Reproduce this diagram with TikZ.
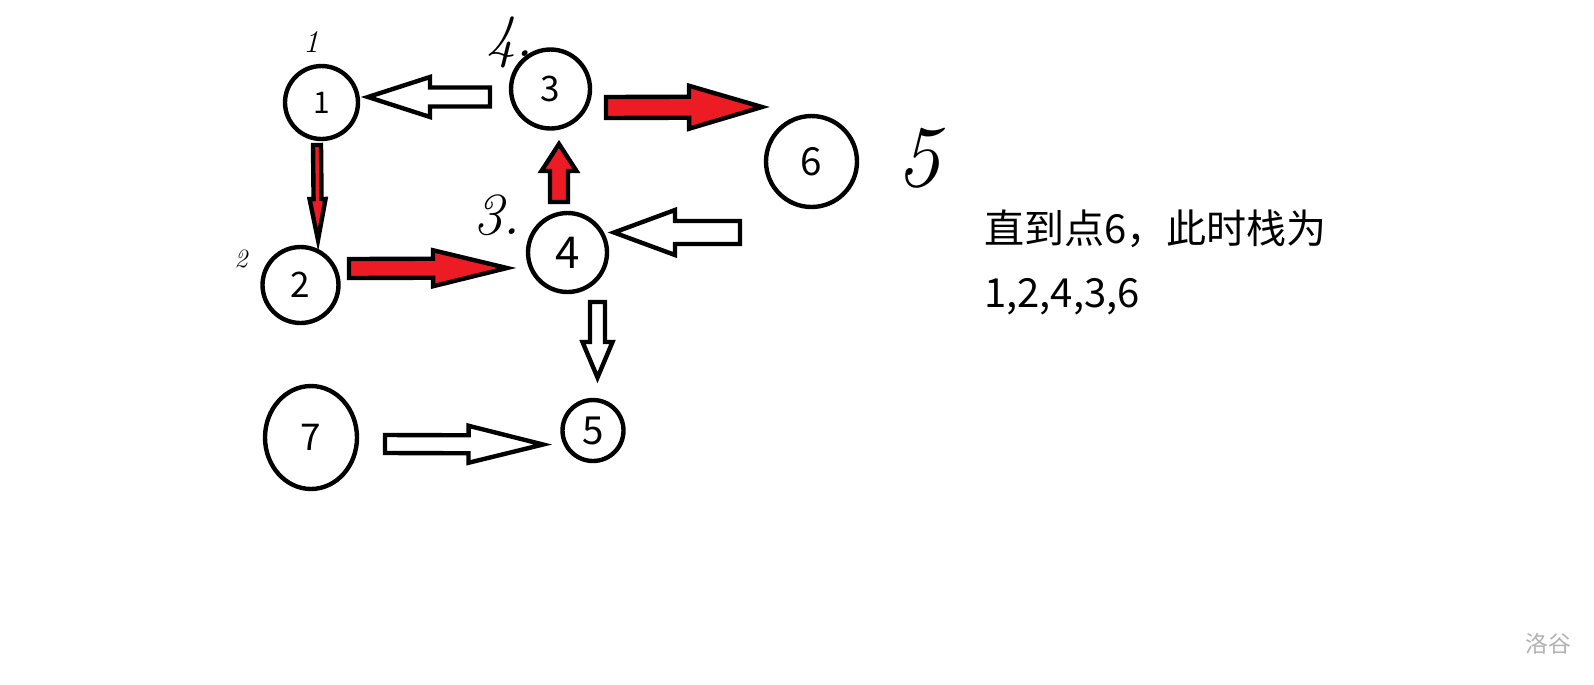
\documentclass[tikz,border=0pt]{standalone}
\usepackage{fontspec}
\usepackage{tikz}
\usetikzlibrary{calc, positioning, shapes.geometric}
\usepackage{xcolor}
\newfontfamily\cjk{Noto Sans CJK SC}
\definecolor{paintred}{HTML}{ED1C24}

% 块状箭头：样式, 起点, 箭尖, 箭杆半宽, 箭头半宽, 箭头长
\newcommand{\blockarrow}[6]{%
  \coordinate (ba-s) at (#2);
  \coordinate (ba-t) at (#3);
  \coordinate (ba-h) at ($(ba-t)!#6!(ba-s)$);
  \draw[#1] ($(ba-s)!#4!90:(ba-t)$) -- ($(ba-h)!#4!90:(ba-t)$) -- ($(ba-h)!#5!90:(ba-t)$)
    -- (ba-t) -- ($(ba-h)!#5!-90:(ba-t)$) -- ($(ba-h)!#4!-90:(ba-t)$) -- ($(ba-s)!#4!-90:(ba-t)$) -- cycle;
}

\begin{document}
\begin{tikzpicture}[x=0.02cm, y=-0.02cm, line width=2.5pt, line join=miter,
    vertex/.style={circle, draw, outer sep=0pt, inner sep=0pt},
    hand/.style={inner sep=0pt, font=\itshape\fontsize{#1}{#1}\selectfont},
    redarrow/.style={draw, fill=paintred},
    whitearrow/.style={draw, fill=white}]
    \useasboundingbox (0,0) rectangle (1594,684);

    % 顶点
    \foreach \n/\x/\y/\d/\s in {1/321.5/102.5/1.46/17, 2/300.5/285/1.52/20, 3/550.5/89/1.58/20,
                               4/567.5/252.5/1.58/25, 5/593/430.5/1.22/22, 6/811.5/161.5/1.82/22} {
        \node[vertex, minimum size=\d cm, font=\cjk\fontsize{\s}{\s}\selectfont] (n\n) at (\x,\y) {\n};
    }
    \node[vertex, ellipse, minimum width=1.84cm, minimum height=2.06cm, font=\cjk\fontsize{21}{21}\selectfont] (n7) at (311,437.5) {7};

    % 手写的访问次序
    \node[hand=18] (h1) at (311,42) {1};
    \node[hand=15] (h2) at (241,259) {2};
    \node[hand=34] (h3) at (497,215) {3.};
    \node[hand=34] (h4) at (510,42) {4.};
    \node[hand=50] (h5) at (918,158) {5};

    % 红色：走过的边
    \blockarrow{redarrow}{$(n1.south)+(-4.5,6)$}{$(n2.north)+(17.5,-7)$}{0.08cm}{0.16cm}{0.82cm}
    \blockarrow{redarrow}{$(n2.east)+(10.5,-16.5)$}{$(n4.west)+(-21,15.5)$}{0.19cm}{0.36cm}{1.48cm}
    \blockarrow{redarrow}{$(n4.north)+(-8.5,-11)$}{$(n3.south)+(8.5,15.5)$}{0.18cm}{0.35cm}{0.54cm}
    \blockarrow{redarrow}{$(n3.east)+(16,18.5)$}{$(n6.west)+(-4,-54.5)$}{0.21cm}{0.43cm}{1.46cm}

    % 白色：其余的边
    \blockarrow{whitearrow}{$(n3.west)+(-21,8)$}{$(n1.east)+(10,-5.5)$}{0.19cm}{0.40cm}{1.24cm}
    \blockarrow{whitearrow}{$(n4.east)+(133,-20)$}{$(n4.east)+(7,-20)$}{0.23cm}{0.45cm}{1.22cm}
    \blockarrow{whitearrow}{$(n4.south)+(30,10)$}{$(n5.north)+(4.5,-22.5)$}{0.15cm}{0.30cm}{0.71cm}
    \blockarrow{whitearrow}{$(n7.east)+(28,6.5)$}{$(n5.west)+(-19.5,14)$}{0.18cm}{0.37cm}{1.49cm}

    % 说明文字
    \node[anchor=base west, inner sep=0pt, font=\cjk\fontsize{22.8}{22.8}\selectfont] (txt1) at (982,243) {直到点6，此时栈为};
    \node[anchor=base west, inner sep=0pt, font=\cjk\fontsize{22.8}{22.8}\selectfont] (txt2) at (982,307) {1,2,4,3,6};
    \node[text=gray!60, font=\cjk\fontsize{13}{13}\selectfont] (mark) at (1548,644) {洛谷};
\end{tikzpicture}
\end{document}
